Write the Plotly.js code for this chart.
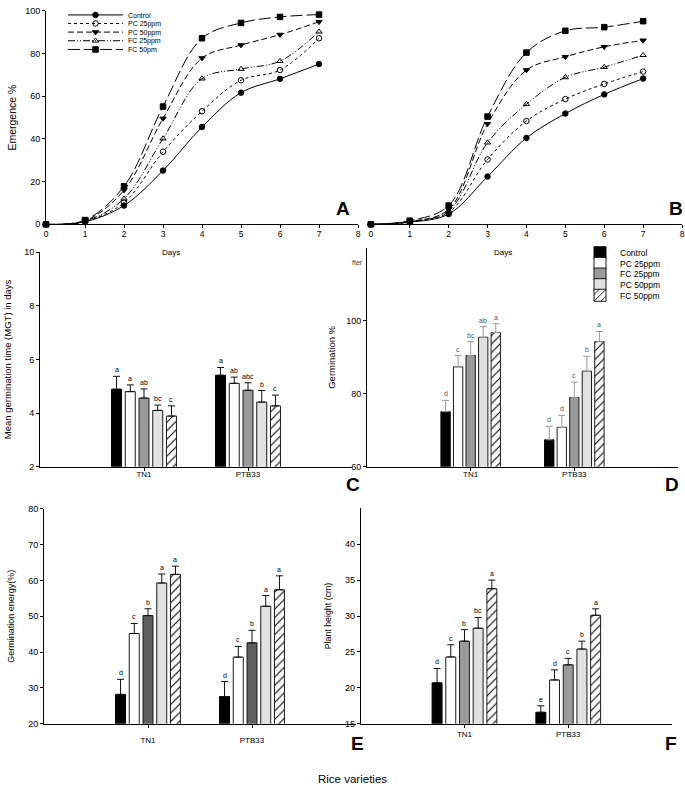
<!DOCTYPE html>
<html><head><meta charset="utf-8">
<script src="https://cdn.plot.ly/plotly-3.0.1.min.js"></script>
<style>html,body{margin:0;padding:0;background:#fff}#chart{width:685px;height:787px}</style>
</head><body><div id="chart"></div>
<script>
// ---------- Data ----------
const days = [0, 1, 2, 3, 4, 5, 6, 7];
const lineSeries = ['Control', 'PC 25ppm', 'PC 50ppm', 'FC 25ppm', 'FC 50pm'];
// Panel A (emergence %)
const emA_Control = [0, 1.2, 8.8, 25.2, 45.6, 61.7, 68.2, 75.1];
const emA_PC25    = [0, 1.4, 10.2, 34.0, 53.0, 67.5, 72.3, 87.2];
const emA_PC50    = [0, 1.6, 16.0, 49.6, 77.9, 84.0, 88.9, 94.9];
const emA_FC25    = [0, 1.5, 12.0, 40.2, 68.3, 72.8, 76.5, 90.3];
const emA_FC50    = [0, 2.0, 17.8, 55.2, 87.2, 94.4, 97.2, 98.3];
// Panel B (emergence %)
const emB_Control = [0, 1.0, 4.8, 22.4, 40.5, 51.9, 60.9, 68.3];
const emB_PC25    = [0, 1.2, 5.6, 30.4, 48.4, 58.7, 65.8, 71.6];
const emB_PC50    = [0, 1.3, 7.0, 47.1, 72.3, 78.5, 83.2, 86.2];
const emB_FC25    = [0, 1.2, 6.3, 38.3, 56.3, 68.9, 73.7, 79.3];
const emB_FC50    = [0, 1.7, 8.8, 50.5, 80.5, 90.7, 92.4, 95.2];

const varieties = ['TN1', 'PTB33'];
const treatments = ['Control', 'PC 25ppm', 'FC 25ppm', 'PC 50ppm', 'FC 50ppm'];
// Panel C: mean germination time
const mgtTN1 = [4.89, 4.80, 4.56, 4.10, 3.89];
const mgtTN1Top = [5.37, 5.05, 4.90, 4.30, 4.27];
const mgtTN1Let = ['a', 'a', 'ab', 'bc', 'c'];
const mgtPTB33 = [5.41, 5.11, 4.85, 4.41, 4.27];
const mgtPTB33Top = [5.70, 5.34, 5.13, 4.84, 4.67];
const mgtPTB33Let = ['a', 'ab', 'abc', 'b', 'c'];
// Panel D: germination %
const gerTN1 = [75.1, 87.4, 90.5, 95.5, 96.8];
const gerTN1Top = [78.2, 90.5, 94.3, 98.4, 99.2];
const gerTN1Let = ['d', 'c', 'bc', 'ab', 'a'];
const gerPTB33 = [67.4, 70.8, 79.0, 86.2, 94.3];
const gerPTB33Top = [71.1, 74.1, 83.2, 90.3, 97.1];
const gerPTB33Let = ['d', 'd', 'c', 'b', 'a'];
// Panel E: germination energy
const geTN1 = [28.2, 45.2, 50.2, 59.3, 61.7];
const geTN1Top = [32.4, 48.0, 52.1, 61.8, 64.0];
const geTN1Let = ['d', 'c', 'b', 'a', 'a'];
const gePTB33 = [27.6, 38.6, 42.6, 52.8, 57.4];
const gePTB33Top = [31.8, 41.6, 46.1, 55.8, 61.3];
const gePTB33Let = ['d', 'c', 'b', 'a', 'a'];
// Panel F: plant height
const phTN1 = [20.7, 24.3, 26.5, 28.3, 33.8];
const phTN1Top = [22.7, 26.0, 28.1, 29.8, 35.0];
const phTN1Let = ['d', 'c', 'b', 'bc', 'a'];
const phPTB33 = [16.6, 21.1, 23.2, 25.4, 30.1];
const phPTB33Top = [17.5, 22.5, 24.1, 26.5, 31.0];
const phPTB33Let = ['e', 'd', 'c', 'b', 'a'];

// ---------- Styling ----------
const FONT = 'Liberation Sans, Arial, sans-serif';
const W = 685, H = 787;
const px = p => p / W;
const py = p => 1 - p / H;

const lineDash = ['solid', 'dot', '6px,3px', '7px,2px,1px,2px,1px,2px', '12px,4px'];
const lineSym = ['circle', 'circle-open', 'triangle-down', 'triangle-up-open', 'square'];
const barFill = ['#000000', '#ffffff', '#9a9a9a', '#e1e1e1', '#ffffff'];
const barFillE = ['#000000', '#ffffff', '#5e5e5e', '#e1e1e1', '#ffffff'];

const traces = [];
const annotations = [];
const layout = {
  width: W, height: H,
  margin: {l: 0, r: 0, t: 0, b: 0},
  paper_bgcolor: '#ffffff', plot_bgcolor: 'rgba(0,0,0,0)',
  font: {family: FONT, color: '#000'},
  showlegend: true,
  annotations: annotations
};

// ---------- Line panels ----------
const seriesA = [emA_Control, emA_PC25, emA_PC50, emA_FC25, emA_FC50];
const seriesB = [emB_Control, emB_PC25, emB_PC50, emB_FC25, emB_FC50];
const legendAY = [9, 17.6, 26.3, 35, 43.8];
function addLines(series, xa, ya, withLegend) {
  series.forEach((vals, i) => {
    const t = {
      type: 'scatter', mode: 'lines+markers', x: days, y: vals, name: lineSeries[i],
      xaxis: xa, yaxis: ya, cliponaxis: false,
      line: {shape: 'spline', smoothing: 1, color: '#000', width: 1, dash: lineDash[i]},
      marker: {symbol: lineSym[i], size: 5.5, color: '#000', line: {color: '#000', width: 1}},
      showlegend: withLegend
    };
    if (withLegend) {
      const lg = i === 0 ? 'legend' : 'legend' + (i + 1);
      t.legend = lg;
      layout[lg] = {x: px(63), xanchor: 'left', y: py(legendAY[i]), yanchor: 'middle',
        bgcolor: 'rgba(0,0,0,0)', borderwidth: 0, itemwidth: 55,
        font: {family: FONT, size: 7, color: '#000'}};
    }
    traces.push(t);
  });
}
addLines(seriesA, 'x', 'y', true);
addLines(seriesB, 'x2', 'y2', false);

// ---------- Bar panels ----------
const legendDY = [248.7, 259.4, 270.1, 280.8, 291.5];
function addBars(xa, ya, tn1, tn1Top, tn1Let, ptb, ptbTop, ptbLet, o) {
  const xs = varieties.map((v, k) => k + 1);
  for (let i = 0; i < 5; i++) {
    const c = (i - 2) * o.pitch;
    const ys = [tn1[i], ptb[i]];
    const tops = [tn1Top[i], ptbTop[i]];
    const marker = {color: o.fills[i], line: {color: i === 0 ? '#000' : '#1a1a1a', width: 1}};
    if (i === 4) marker.pattern = {shape: '/', bgcolor: '#ffffff', fgcolor: '#000000', size: 6, solidity: 0.18};
    const t = {
      type: 'bar', x: xs, y: ys, name: treatments[i], xaxis: xa, yaxis: ya,
      width: o.width, offset: c - o.width / 2, marker: marker,
      error_y: {type: 'data', symmetric: false, array: tops.map((tp, k) => tp - ys[k]),
        arrayminus: [0, 0], color: o.errColor, thickness: 1, width: 3.5},
      showlegend: !!o.legend
    };
    if (o.legend) {
      const lg = 'legend' + (6 + i);
      t.legend = lg;
      layout[lg] = {x: px(580), xanchor: 'left', y: py(legendDY[i]), yanchor: 'middle',
        bgcolor: 'rgba(0,0,0,0)', borderwidth: 0, itemwidth: 30,
        font: {family: FONT, size: 8.5, color: '#000'}};
    }
    traces.push(t);
    const lets = [tn1Let[i], ptbLet[i]];
    xs.forEach((xv, k) => {
      annotations.push({xref: xa, yref: ya, x: xv + c, y: tops[k], text: lets[k], showarrow: false,
        xanchor: 'center', yanchor: 'bottom', yshift: 1,
        font: {family: FONT, size: 7, color: o.letColor}});
    });
  }
}
addBars('x3', 'y3', mgtTN1, mgtTN1Top, mgtTN1Let, mgtPTB33, mgtPTB33Top, mgtPTB33Let,
  {pitch: 0.132, width: 0.096, fills: barFill, errColor: '#111', letColor: '#000'});
addBars('x4', 'y4', gerTN1, gerTN1Top, gerTN1Let, gerPTB33, gerPTB33Top, gerPTB33Let,
  {pitch: 0.121, width: 0.09, fills: barFill, errColor: '#9a9a9a', letColor: '#555', legend: true});
addBars('x5', 'y5', geTN1, geTN1Top, geTN1Let, gePTB33, gePTB33Top, gePTB33Let,
  {pitch: 0.132, width: 0.096, fills: barFillE, errColor: '#111', letColor: '#000'});
addBars('x6', 'y6', phTN1, phTN1Top, phTN1Let, phPTB33, phPTB33Top, phPTB33Let,
  {pitch: 0.132, width: 0.096, fills: barFill, errColor: '#111', letColor: '#000'});

// ---------- Axes ----------
function ax(extra) {
  return Object.assign({
    showline: true, linecolor: '#000', linewidth: 1, ticks: 'outside', ticklen: 3,
    tickwidth: 1, tickcolor: '#000', showgrid: false, zeroline: false, fixedrange: true,
    tickfont: {family: FONT, size: 9, color: '#000'}
  }, extra);
}
const yTitleFont = {family: FONT, size: 9.5, color: '#000'};
const catTicks = {tickmode: 'array', tickvals: varieties.map((v, k) => k + 1), ticktext: varieties,
  range: [0, 3], tickfont: {family: FONT, size: 8, color: '#000'}};

layout.xaxis = ax({domain: [px(46), px(358)], anchor: 'y', range: [0, 8], dtick: 1, tick0: 0,
  ticklabelstandoff: -2, tickfont: {family: FONT, size: 8.5, color: '#000'}});
layout.yaxis = ax({domain: [py(220), py(5)], anchor: 'x', range: [0, 100], dtick: 20,
  title: {text: 'Emergence %', font: {family: FONT, size: 10.5, color: '#000'}, standoff: 6}});
layout.xaxis2 = ax({domain: [px(367), px(682)], anchor: 'y2', range: [-0.1, 8], dtick: 1, tick0: 0,
  ticklabelstandoff: -2, tickfont: {family: FONT, size: 8.5, color: '#000'}});
layout.yaxis2 = {domain: [py(220), py(5)], anchor: 'x2', range: [0, 100], visible: false, fixedrange: true};

layout.xaxis3 = ax(Object.assign({domain: [px(40), px(352)], anchor: 'y3', ticklabelstandoff: -3}, catTicks));
layout.yaxis3 = ax({domain: [py(464.3), py(248)], anchor: 'x3', range: [2, 10], dtick: 2,
  title: {text: 'Mean germination time (MGT) in days', font: yTitleFont, standoff: 10}});
layout.xaxis4 = ax(Object.assign({domain: [px(367), px(678)], anchor: 'y4', ticklabelstandoff: -3}, catTicks));
layout.yaxis4 = ax({domain: [py(464.3), py(243.8)], anchor: 'x4', range: [60, 120],
  tickmode: 'array', tickvals: [60, 80, 100],
  title: {text: 'Germination %', font: yTitleFont, standoff: 8}});
layout.xaxis5 = ax(Object.assign({domain: [px(44), px(356)], anchor: 'y5', ticklabelstandoff: 6}, catTicks));
layout.yaxis5 = ax({domain: [py(723.3), py(506.7)], anchor: 'x5', range: [20, 80], dtick: 10,
  title: {text: 'Germination energy(%)', font: {family: FONT, size: 9, color: '#000'}, standoff: 12}});
layout.xaxis6 = ax(Object.assign({domain: [px(360.7), px(672)], anchor: 'y6', ticklabelstandoff: 0}, catTicks));
layout.yaxis6 = ax({domain: [py(723.3), py(506.1)], anchor: 'x6', range: [15, 45],
  tickmode: 'array', tickvals: [15, 20, 25, 30, 35, 40],
  title: {text: 'Plant height (cm)', font: {family: FONT, size: 8.8, color: '#000'}, standoff: 11}});

// ---------- Free text ----------
function note(text, x, y, size, extra) {
  annotations.push(Object.assign({xref: 'paper', yref: 'paper', x: px(x), y: py(y), text: text,
    showarrow: false, xanchor: 'center', yanchor: 'middle',
    font: {family: FONT, size: size, color: '#000'}}, extra || {}));
}
note('Days', 171, 248, 8);
note('Days', 503, 248, 8);
note('<b>A</b>', 343, 204, 19);
note('<b>B</b>', 676, 204, 19);
note('<b>C</b>', 353, 482, 19);
note('<b>D</b>', 672, 482, 19);
note('<b>E</b>', 357, 743, 19);
note('<b>F</b>', 671, 743, 19);
note('Rice varieties', 353, 779, 11.5);
note('fter', 357, 258, 7, {font: {family: FONT, size: 7, color: '#444'}});

Plotly.newPlot('chart', traces, layout, {staticPlot: true, displayModeBar: false});
</script>
</body></html>
